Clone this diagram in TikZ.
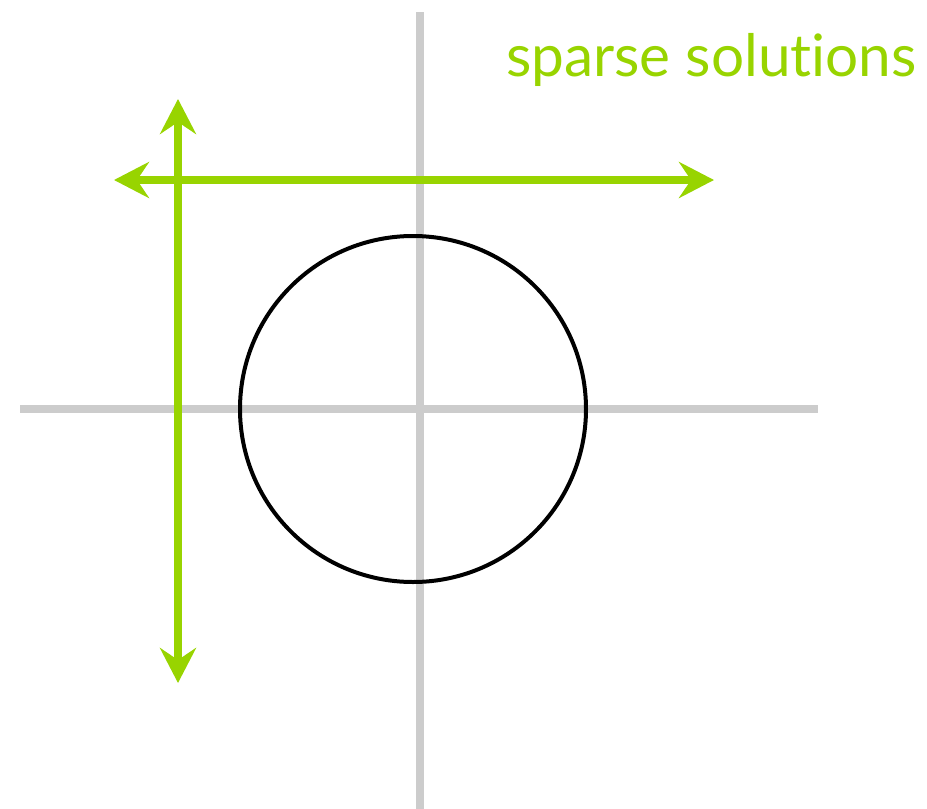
\documentclass[tikz,border=0pt]{standalone}
\usepackage{fontspec}
\setmainfont{Lato}[Ligatures={NoCommon,NoRequired,NoContextual}]
\usetikzlibrary{arrows.meta}
\definecolor{lime}{RGB}{152,212,0}
\definecolor{axisgray}{RGB}{204,204,204}
\tikzset{
  axisline/.style={draw=axisgray, line width=8pt},
  greenarrow/.style={draw=lime, line width=8pt, {Stealth[length=35pt,width=36pt,inset=12pt]}-{Stealth[length=35pt,width=36pt,inset=12pt]}},
  unitcircle/.style={draw=black, line width=4pt},
  label/.style={text=lime, font=\fontsize{58.5}{60}\selectfont, inner sep=0pt}
}
\begin{document}
\begin{tikzpicture}[x=1pt,y=-1pt]
\useasboundingbox (0,0) rectangle (927,809);
% axes
\coordinate (vt) at (419.5,12);
\coordinate (vb) at (419.5,809);
\coordinate (hl) at (20,409);
\coordinate (hr) at (818,409);
\draw[axisline] (vt) -- (vb);
\draw[axisline] (hl) -- (hr);
% circle
\node[unitcircle, circle, minimum size=346pt, inner sep=0pt] (c) at (413,409) {};
% green arrows
\coordinate (gl) at (114,180);
\coordinate (gr) at (714,180);
\coordinate (gt) at (178,99);
\coordinate (gb) at (178,683);
\draw[greenarrow] (gl) -- (gr);
\draw[greenarrow] (gt) -- (gb);
% label
\node[label, anchor=base east] (lbl) at (917,76) {sparse solut\kern0pt ions};
\end{tikzpicture}
\end{document}
